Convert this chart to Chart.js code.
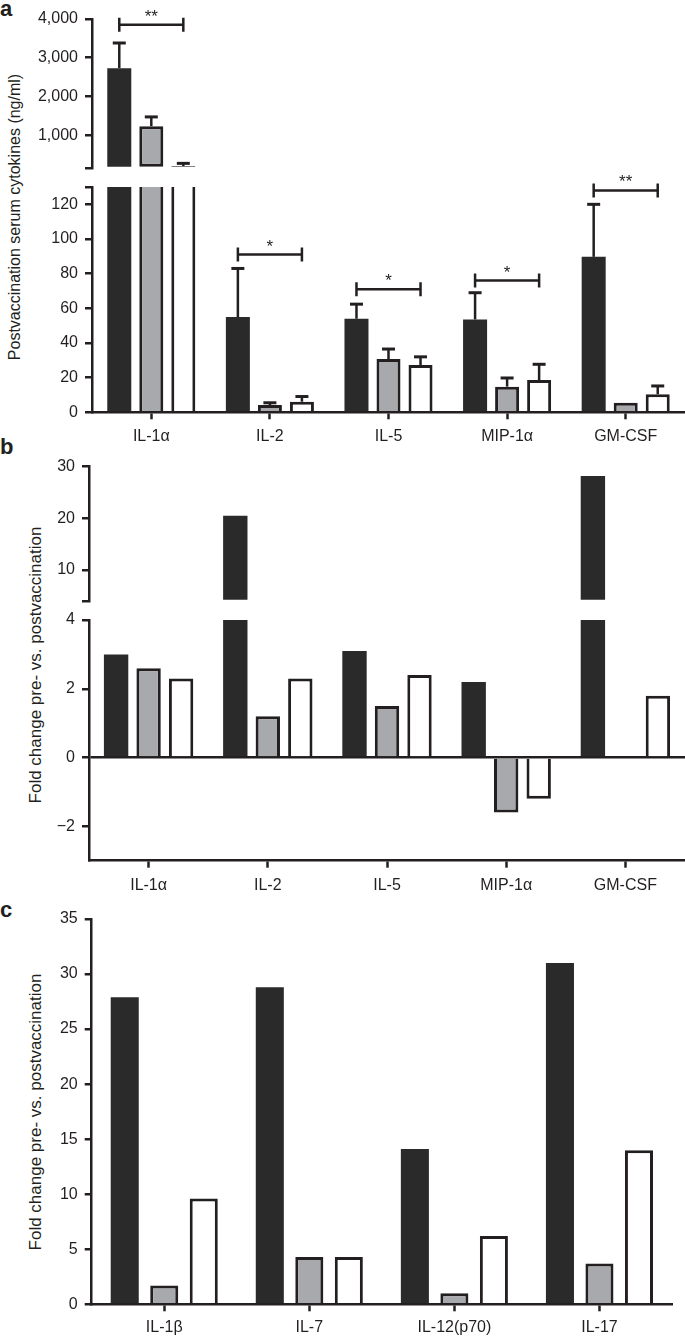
<!DOCTYPE html>
<html>
<head>
<meta charset="utf-8">
<script src="https://cdn.jsdelivr.net/npm/chart.js@4.4.1/dist/chart.umd.min.js"></script>
<style>
  html, body { margin: 0; padding: 0; background: #fff; }
  #page { position: relative; width: 685px; height: 1337px; overflow: hidden;
          font-family: "Liberation Sans", Arial, Helvetica, sans-serif; color: #231f20; }
  canvas { position: absolute; left: 0; }
  .panel { position: absolute; left: 0; font-weight: bold; font-size: 22px; line-height: 22px; }
  .ytitle { position: absolute; line-height: 1; white-space: nowrap;
            transform: translate(-50%, -50%) rotate(-90deg); }
</style>
</head>
<body>
<div id="page">
  <div class="panel" style="top:-2px">a</div>
  <div class="panel" style="top:436px">b</div>
  <div class="panel" style="top:899px">c</div>

  <div class="ytitle" style="left:15px; top:217px; font-size:16px">Postvaccination serum cytokines (ng/ml)</div>
  <div class="ytitle" style="left:35px; top:665px; font-size:17px">Fold change pre- vs. postvaccination</div>
  <div class="ytitle" style="left:35px; top:1112px; font-size:17px">Fold change pre- vs. postvaccination</div>

  <canvas id="aTop" width="685" height="180" style="top:0px"></canvas>
  <canvas id="aBottom" width="685" height="295" style="top:160px"></canvas>
  <canvas id="bTop" width="685" height="155" style="top:455px"></canvas>
  <canvas id="bBottom" width="685" height="290" style="top:610px"></canvas>
  <canvas id="cChart" width="685" height="437" style="top:900px"></canvas>
</div>

<script>
// --- panel a: postvaccination serum cytokines (ng/ml), mean + SEM
const cytokinesA = ['IL-1α', 'IL-2', 'IL-5', 'MIP-1α', 'GM-CSF'];
const aBlack = [2730, 55, 54, 53.6, 89.7];
const aGray = [1230, 4.2, 30.7, 14.8, 5.5];
const aWhite = [200, 6.1, 27.3, 18.6, 10.4];
const aBlackSem = [650, 28, 8.4, 15.4, 30.3];
const aGraySem = [240, 1.3, 5.8, 5, 0];
const aWhiteSem = [70, 3, 4.7, 9.1, 4.8];
const aSigLevel = [3850, 91, 71, 76, 128];
const aSigLabel = ['**', '*', '*', '*', '**'];
const aTopTicks = [150, 1000, 2000, 3000, 4000];
const aBottomTicks = [0, 20, 40, 60, 80, 100, 120, 130];

// --- panel b: fold change pre- vs. postvaccination
const cytokinesB = ['IL-1α', 'IL-2', 'IL-5', 'MIP-1α', 'GM-CSF'];
const bBlack = [3.0, 20.5, 3.1, 2.2, 28.2];
const bGray = [2.6, 1.2, 1.5, -1.6, null];
const bWhite = [2.3, 2.3, 2.4, -1.2, 1.8];
const bTopTicks = [4, 10, 20, 30];
const bBottomTicks = [-2, 0, 2, 4];

// --- panel c
const cytokinesC = ['IL-1β', 'IL-7', 'IL-12(p70)', 'IL-17'];
const cBlack = [27.9, 28.8, 14.1, 31.0];
const cGray = [1.7, 4.3, 1.0, 3.7];
const cWhite = [9.6, 4.3, 6.2, 14.0];
const cTicks = [0, 5, 10, 15, 20, 25, 30, 35];

const DARK = '#231f20';
const BLACK = '#2b2a2b';
const GRAY = '#a7a9ac';
const FONT = '"Liberation Sans", Arial, Helvetica, sans-serif';

// error bars (upper only) and significance brackets
const errorBars = {
  id: 'errorBars',
  afterDatasetsDraw(chart, args, opts) {
    const ctx = chart.ctx;
    const y = chart.scales.y;
    ctx.save();
    ctx.strokeStyle = DARK;
    if (opts.sem) {
      opts.sem.forEach((errs, di) => {
        const meta = chart.getDatasetMeta(di);
        const vals = chart.data.datasets[di].data;
        errs.forEach((e, i) => {
          const v = vals[i];
          if (!e || v == null || v < y.min || v > y.max) return;
          const x = meta.data[i].x;
          const y0 = y.getPixelForValue(v);
          const y1 = y.getPixelForValue(v + e);
          ctx.lineWidth = 2.5;
          ctx.beginPath();
          ctx.moveTo(x, y0);
          ctx.lineTo(x, y1);
          ctx.stroke();
          ctx.lineWidth = 3;
          ctx.beginPath();
          ctx.moveTo(x - 6.5, y1);
          ctx.lineTo(x + 6.5, y1);
          ctx.stroke();
        });
      });
    }
    if (opts.sig) {
      const m0 = chart.getDatasetMeta(0), m2 = chart.getDatasetMeta(2);
      ctx.lineWidth = 2.5;
      ctx.fillStyle = DARK;
      ctx.font = '17px ' + FONT;
      ctx.textAlign = 'center';
      ctx.textBaseline = 'alphabetic';
      opts.sig.level.forEach((h, i) => {
        if (h < y.min || h > y.max) return;
        const x1 = m0.data[i].x, x2 = m2.data[i].x;
        const py = y.getPixelForValue(h);
        ctx.beginPath();
        ctx.moveTo(x1, py); ctx.lineTo(x2, py);
        ctx.moveTo(x1, py - 7); ctx.lineTo(x1, py + 7);
        ctx.moveTo(x2, py - 7); ctx.lineTo(x2, py + 7);
        ctx.stroke();
        ctx.fillText(opts.sig.label[i], (x1 + x2) / 2, py - 3);
      });
    }
    ctx.restore();
  }
};

function minus(v) {
  return v < 0 ? '\u2212' + Math.abs(v) : String(v);
}

function barChart(id, o) {
  const styles = [
    { backgroundColor: BLACK, borderColor: BLACK, borderWidth: 0 },
    { backgroundColor: GRAY, borderColor: DARK, borderWidth: 3 },
    { backgroundColor: '#ffffff', borderColor: DARK, borderWidth: 3 }
  ];
  return new Chart(document.getElementById(id), {
    type: 'bar',
    data: {
      labels: o.labels,
      datasets: o.series.map((d, i) => Object.assign({
        data: d,
        // top segments keep their lower edge, lower segments sit on the axis
        borderSkipped: o.base === undefined ? 'start' : false,
        clip: 0,
        base: o.base,
        categoryPercentage: o.cat,
        barPercentage: o.bar
      }, styles[i]))
    },
    options: {
      responsive: false,
      animation: false,
      layout: { padding: { top: o.padTop, bottom: o.padBottom || 0, left: 0, right: o.padRight || 0 } },
      plugins: {
        legend: { display: false },
        tooltip: { enabled: false },
        errorBars: { sem: o.sem, sig: o.sig }
      },
      scales: {
        x: {
          display: o.showX,
          afterFit: s => { s.height = o.xHeight || 0; },
          grid: { display: true, drawOnChartArea: false, offset: false, tickLength: 7, tickWidth: 2.5, tickColor: DARK },
          border: { color: DARK, width: 2.5 },
          ticks: { color: DARK, font: { family: FONT, size: 16 }, padding: o.xPad, maxRotation: 0, autoSkip: false }
        },
        y: {
          min: o.min,
          max: o.max,
          afterBuildTicks: s => { s.ticks = o.ticks.map(v => ({ value: v })); },
          afterFit: s => { s.width = o.yWidth; s.paddingTop = 0; s.paddingBottom = 0; },
          grid: {
            drawOnChartArea: !!o.zeroLine,
            color: c => (o.zeroLine && c.tick && c.tick.value === 0) ? DARK : 'rgba(0,0,0,0)',
            lineWidth: 2.5,
            tickLength: 7, tickWidth: 2.5, tickColor: DARK
          },
          border: { color: DARK, width: 2.5 },
          ticks: {
            autoSkip: false,
            color: DARK,
            font: { family: FONT, size: 16 },
            padding: 7,
            callback: v => (o.hide && o.hide.includes(v)) ? '' : o.fmt(v)
          }
        }
      }
    },
    plugins: [errorBars]
  });
}

const aSeries = [aBlack, aGray, aWhite];
const aSem = [aBlackSem, aGraySem, aWhiteSem];
const aSig = { level: aSigLevel, label: aSigLabel };
const thousands = v => v.toLocaleString('en-US');

barChart('aTop', {
  labels: cytokinesA, series: aSeries, sem: aSem, sig: aSig,
  min: 150, max: 4000, ticks: aTopTicks, hide: [150], fmt: thousands, base: 150,
  showX: false, yWidth: 92, padTop: 19, padBottom: 12, cat: 0.81, bar: 0.75
});
barChart('aBottom', {
  labels: cytokinesA, series: aSeries, sem: aSem, sig: aSig,
  min: 0, max: 130, ticks: aBottomTicks, hide: [130], fmt: String,
  showX: true, xHeight: 42.7, xPad: 8, yWidth: 92, padTop: 27, cat: 0.81, bar: 0.75
});

const bSeries = [bBlack, bGray, bWhite];
barChart('bTop', {
  labels: cytokinesB, series: bSeries,
  min: 4, max: 30, ticks: bTopTicks, hide: [4], fmt: String, base: 4,
  showX: false, yWidth: 89, padTop: 11.6, padBottom: 9, cat: 0.818, bar: 0.75
});
barChart('bBottom', {
  labels: cytokinesB, series: bSeries, zeroLine: true,
  min: -3, max: 4, ticks: bBottomTicks, fmt: minus,
  showX: true, xHeight: 39.3, xPad: 8, yWidth: 89, padTop: 10, cat: 0.818, bar: 0.75
});

barChart('cChart', {
  labels: cytokinesC, series: [cBlack, cGray, cWhite],
  min: 0, max: 35, ticks: cTicks, fmt: String,
  showX: true, xHeight: 32.7, xPad: 7, yWidth: 91.7, padTop: 19, padRight: 13, cat: 0.817, bar: 0.71
});
</script>
</body>
</html>
